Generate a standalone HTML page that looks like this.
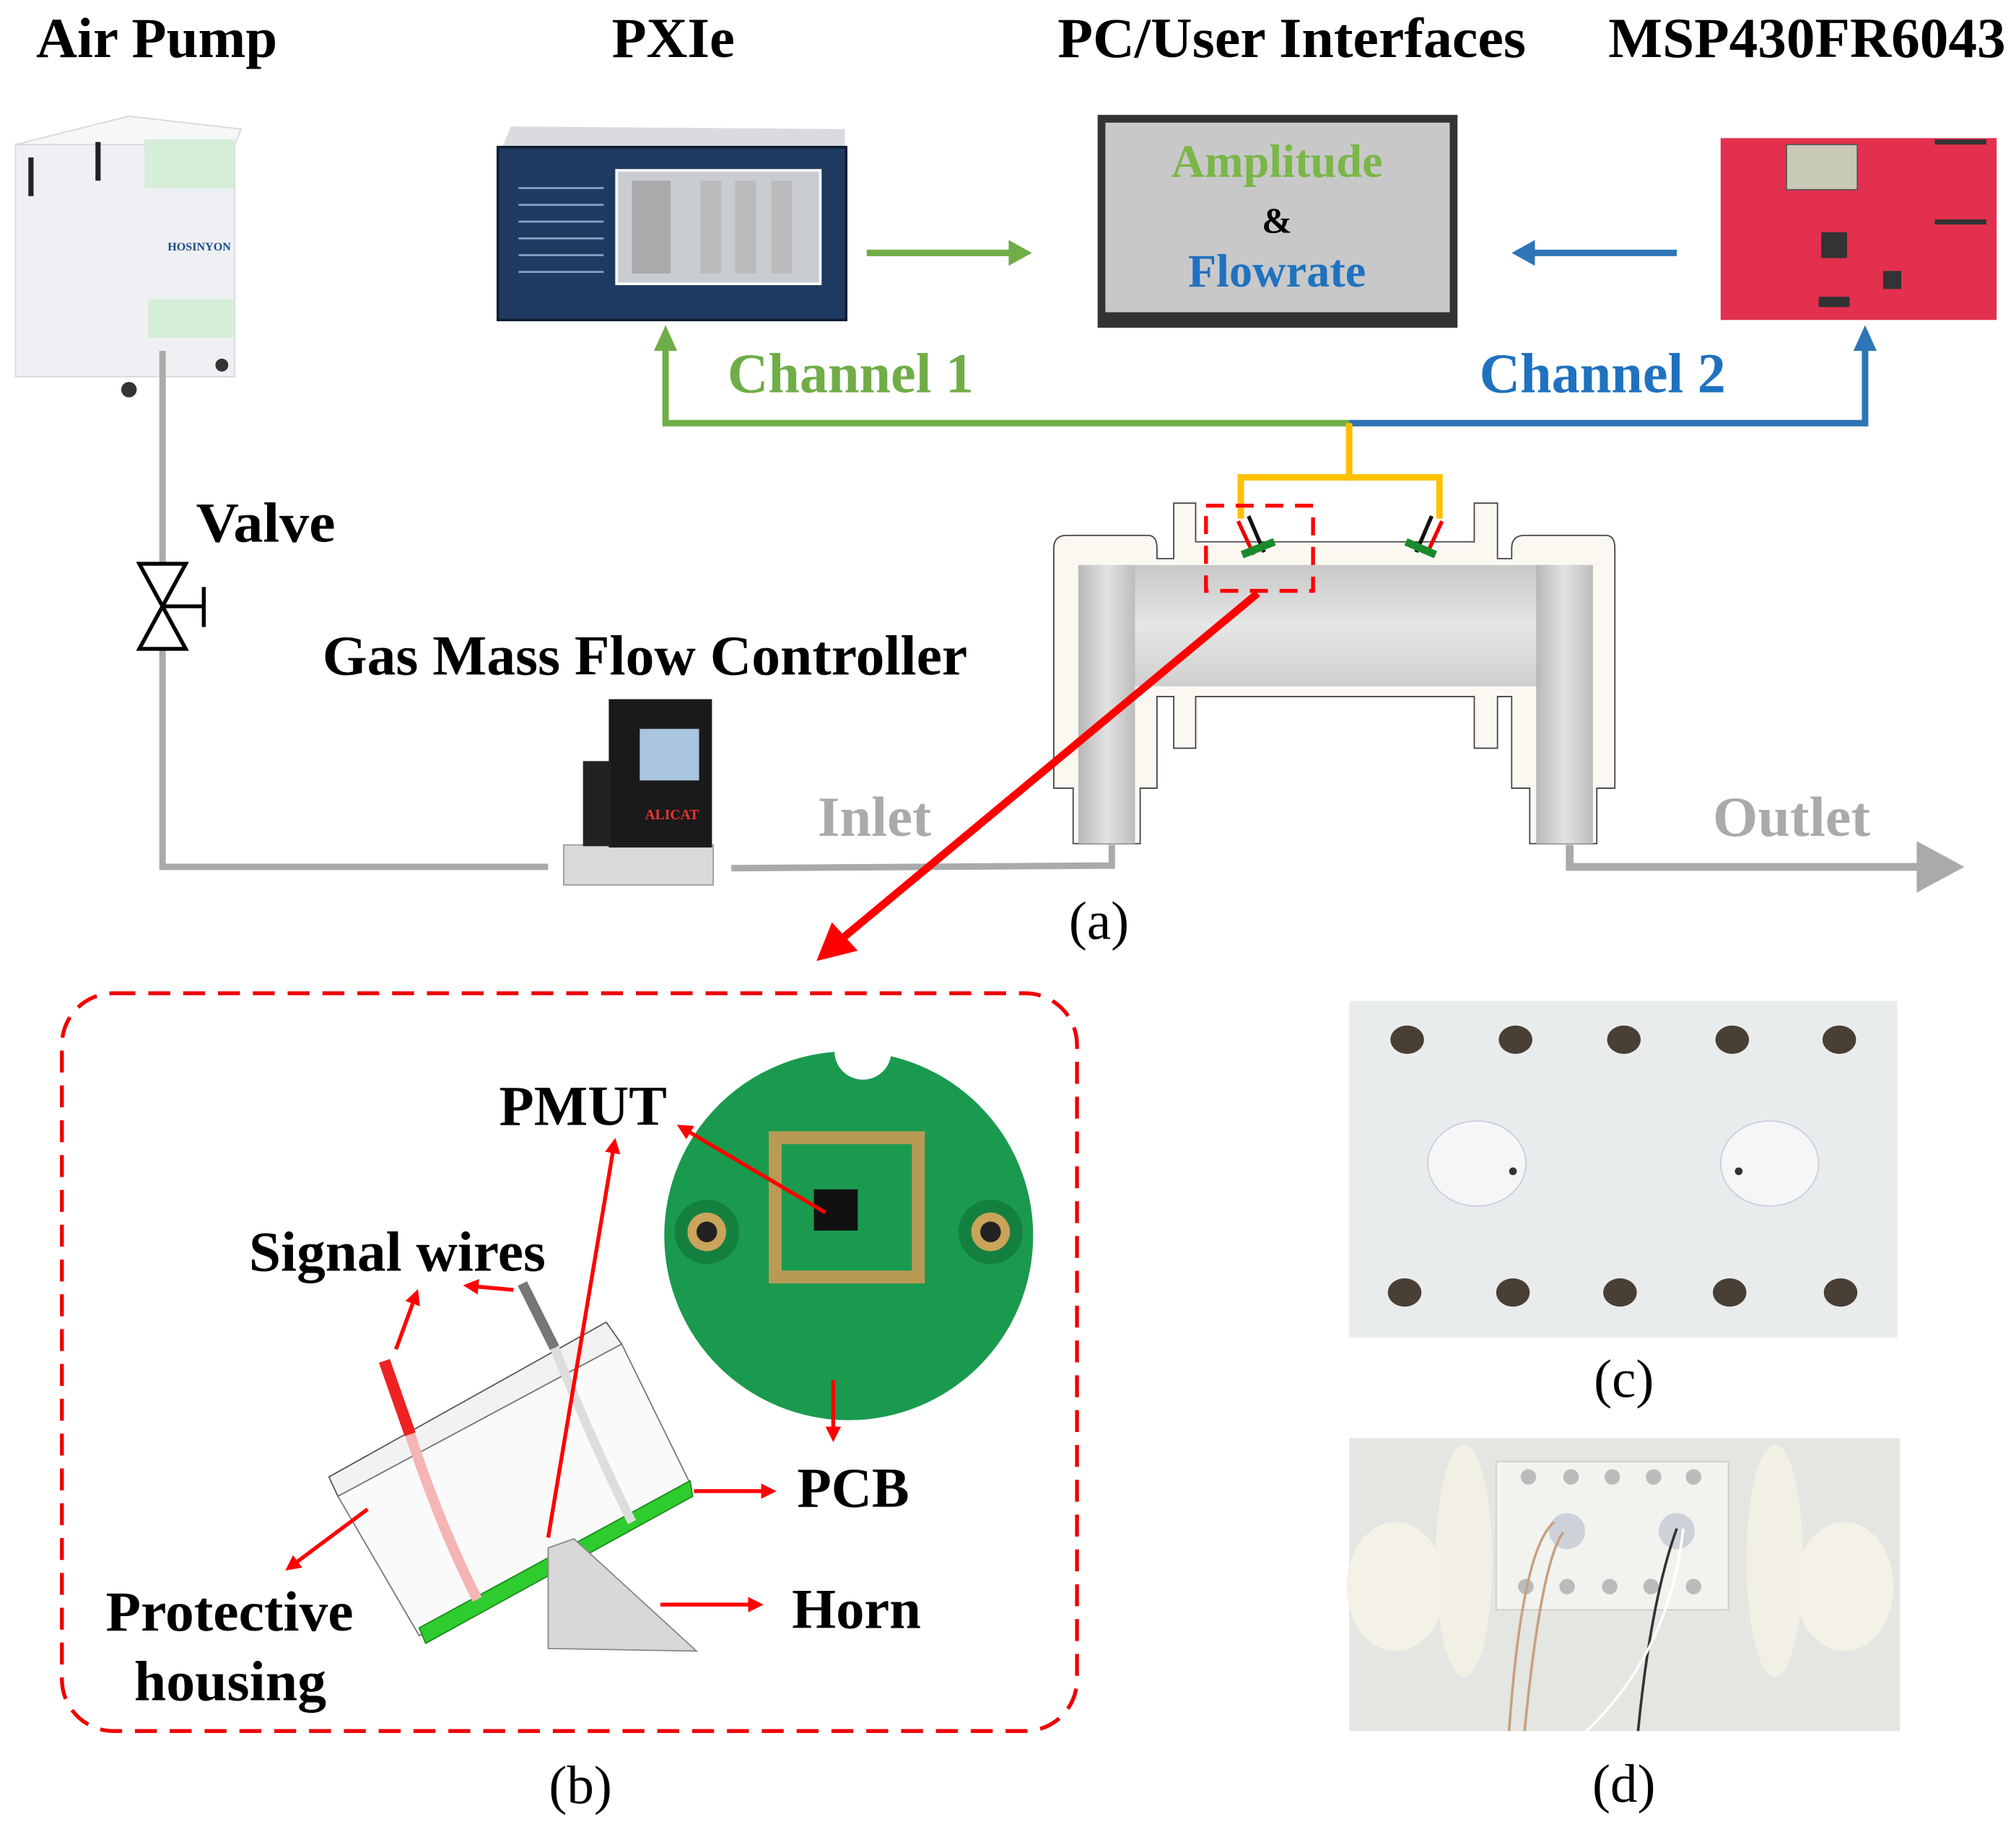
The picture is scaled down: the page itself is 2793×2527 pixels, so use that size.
<!DOCTYPE html>
<html><head><meta charset="utf-8"><style>
html,body{margin:0;padding:0;background:#fff;}
svg{display:block;}
text{font-family:"Liberation Serif",serif;}
</style></head><body>
<svg width="2793" height="2527" viewBox="0 0 1563 1414" xmlns="http://www.w3.org/2000/svg">
<defs>
<marker id="ra" markerWidth="4" markerHeight="4" refX="2" refY="2" orient="auto" markerUnits="strokeWidth"><path d="M0,0 L4,2 L0,4 z" fill="#f00"/></marker>
<linearGradient id="gch" x1="0" y1="0" x2="0" y2="1"><stop offset="0" stop-color="#c8c8c8"/><stop offset="0.5" stop-color="#e6e6e6"/><stop offset="1" stop-color="#cfcfcf"/></linearGradient>
<linearGradient id="gcv" x1="0" y1="0" x2="1" y2="0"><stop offset="0" stop-color="#b8b8b8"/><stop offset="0.5" stop-color="#e2e2e2"/><stop offset="1" stop-color="#bdbdbd"/></linearGradient>
</defs>
<g font-weight="bold" font-size="44" fill="#000">
<text x="28" y="44" textLength="187" lengthAdjust="spacingAndGlyphs">Air Pump</text>
<text x="522" y="44" text-anchor="middle">PXIe</text>
<text x="820" y="44" textLength="363" lengthAdjust="spacingAndGlyphs">PC/User Interfaces</text>
<text x="1247" y="44" textLength="308" lengthAdjust="spacingAndGlyphs">MSP430FR6043</text>
</g>
<!-- air pump -->
<rect x="12" y="112" width="170" height="180" fill="#eef0f3" stroke="#d4d8dc"/>
<polygon points="12,112 100,90 187,100 182,112" fill="#f6f7f8" stroke="#d4d8dc"/>
<rect x="112" y="108" width="70" height="38" fill="#d5eed8"/>
<rect x="115" y="232" width="66" height="30" fill="#d5eed8"/>
<rect x="22" y="122" width="4" height="30" fill="#222"/><rect x="74" y="110" width="4" height="30" fill="#222"/>
<text x="130" y="194" font-size="9" font-weight="bold" fill="#1a4a8a" font-family="Liberation Sans,sans-serif">HOSINYON</text>
<circle cx="100" cy="302" r="6" fill="#333"/><circle cx="172" cy="283" r="5" fill="#333"/>
<!-- PXIe -->
<polygon points="388,118 396,98 655,100 655,118" fill="#d9dbe0"/>
<rect x="386" y="114" width="270" height="134" fill="#1f3a60" stroke="#0e1d33" stroke-width="2"/>
<rect x="478" y="132" width="158" height="88" fill="#c9ccd0" stroke="#fff" stroke-width="2"/>
<g fill="#8aa4c8"><rect x="402" y="145" width="66" height="1.5"/><rect x="402" y="158" width="66" height="1.5"/><rect x="402" y="171" width="66" height="1.5"/><rect x="402" y="184" width="66" height="1.5"/><rect x="402" y="197" width="66" height="1.5"/><rect x="402" y="210" width="66" height="1.5"/></g>
<g fill="#555"><rect x="490" y="140" width="30" height="72" fill="#aaa"/><rect x="543" y="140" width="16" height="72" fill="#bbb"/><rect x="570" y="140" width="16" height="72" fill="#bbb"/><rect x="598" y="140" width="16" height="72" fill="#bbb"/></g>
<!-- monitor -->
<rect x="851" y="89" width="279" height="165" fill="#333"/>
<rect x="857" y="95" width="267" height="147" fill="#c8c8c8"/>
<g font-weight="bold" font-size="36" text-anchor="middle">
<text x="990" y="137" fill="#7ab648">Amplitude</text>
<text x="990" y="180" fill="#000" font-size="28">&amp;</text>
<text x="990" y="222" fill="#1f72bf">Flowrate</text>
</g>
<!-- MSP board -->
<rect x="1334" y="107" width="214" height="141" fill="#e3304e"/>
<rect x="1385" y="112" width="55" height="35" fill="#c9c9b8" stroke="#555"/>
<rect x="1412" y="180" width="20" height="20" fill="#333"/><rect x="1460" y="210" width="14" height="14" fill="#333"/><rect x="1410" y="230" width="24" height="8" fill="#333"/>
<g fill="#333"><rect x="1500" y="108" width="40" height="4"/><rect x="1500" y="170" width="40" height="4"/></g>
<!-- arrows top -->
<line x1="672" y1="196" x2="785" y2="196" stroke="#70ad47" stroke-width="5"/>
<polygon points="800,196 782,186 782,206" fill="#70ad47"/>
<line x1="1300" y1="196" x2="1188" y2="196" stroke="#2e75b6" stroke-width="5"/>
<polygon points="1172,196 1190,186 1190,206" fill="#2e75b6"/>
<!-- channels -->
<polyline points="516,270 516,328 1046,328" fill="none" stroke="#70ad47" stroke-width="5"/>
<polygon points="516,252 507,272 525,272" fill="#70ad47"/>
<polyline points="1046,328 1446,328 1446,270" fill="none" stroke="#2e75b6" stroke-width="5"/>
<polygon points="1446,252 1437,272 1455,272" fill="#2e75b6"/>
<g font-weight="bold" font-size="44"><text x="564" y="304" textLength="191" lengthAdjust="spacingAndGlyphs" fill="#70ad47">Channel 1</text><text x="1147" y="304" textLength="191" lengthAdjust="spacingAndGlyphs" fill="#1f72bf">Channel 2</text></g>
<polyline points="1046,328 1046,370 962,370 962,402" fill="none" stroke="#ffc000" stroke-width="5"/>
<polyline points="1046,370 1116,370 1116,402" fill="none" stroke="#ffc000" stroke-width="5"/>
<!-- chamber -->
<g stroke="#444" stroke-width="1" fill="#fbf8f2">
<path d="M817,425 Q817,415 827,415 L890,415 Q897,415 897,425 L897,433 L910,433 L910,390 L927,390 L927,420 L1143,420 L1143,390 L1161,390 L1161,433 L1172,433 L1172,425 Q1172,415 1182,415 L1245,415 Q1252,415 1252,425 L1252,611 L1238,611 L1238,654 L1186,654 L1186,611 L1172,611 L1172,540 L1161,540 L1161,580 L1143,580 L1143,540 L927,540 L927,580 L910,580 L910,540 L897,540 L897,611 L884,611 L884,654 L832,654 L832,611 L817,611 Z"/>
</g>
<rect x="836" y="438" width="399" height="94" fill="url(#gch)"/>
<rect x="836" y="438" width="44" height="216" fill="url(#gcv)"/>
<rect x="1191" y="438" width="44" height="216" fill="url(#gcv)"/>
<!-- transducers -->
<g>
<line x1="960" y1="404" x2="972" y2="430" stroke="#e00" stroke-width="3"/><line x1="968" y1="400" x2="980" y2="428" stroke="#111" stroke-width="3"/>
<line x1="963" y1="430" x2="988" y2="420" stroke="#1a8a2a" stroke-width="6"/>
<line x1="1118" y1="404" x2="1106" y2="430" stroke="#e00" stroke-width="3"/><line x1="1110" y1="400" x2="1098" y2="428" stroke="#111" stroke-width="3"/>
<line x1="1090" y1="420" x2="1113" y2="430" stroke="#1a8a2a" stroke-width="6"/>
</g>
<rect x="935" y="392" width="83" height="66" fill="none" stroke="#f00" stroke-width="3" stroke-dasharray="14,9"/>
<!-- pipes -->
<polyline points="126,272 126,437" fill="none" stroke="#aaa" stroke-width="5"/>
<polyline points="126,503 126,672 425,672" fill="none" stroke="#aaa" stroke-width="5"/>
<polyline points="567,673 862,671 862,655" fill="none" stroke="#aaa" stroke-width="5"/>
<polyline points="1217,655 1217,672 1490,672" fill="none" stroke="#aaa" stroke-width="6"/>
<polygon points="1523,672 1486,652 1486,692" fill="#aaa"/>
<!-- valve -->
<polygon points="108,437 144,437 108,503 144,503" fill="#fff" stroke="#000" stroke-width="3"/>
<line x1="126" y1="470" x2="158" y2="470" stroke="#000" stroke-width="3"/><line x1="158" y1="455" x2="158" y2="486" stroke="#000" stroke-width="3"/>
<g font-weight="bold" font-size="44"><text x="152" y="420" textLength="108" lengthAdjust="spacingAndGlyphs">Valve</text><text x="250" y="523" textLength="500" lengthAdjust="spacingAndGlyphs">Gas Mass Flow Controller</text></g>
<g font-weight="bold" font-size="44" fill="#aaa"><text x="634" y="648" textLength="88" lengthAdjust="spacingAndGlyphs">Inlet</text><text x="1328" y="648" textLength="122" lengthAdjust="spacingAndGlyphs">Outlet</text></g>
<!-- MFC -->
<rect x="437" y="655" width="116" height="31" fill="#d9d9d9" stroke="#999"/>
<rect x="472" y="542" width="80" height="115" fill="#1a1a1a"/>
<rect x="496" y="565" width="46" height="40" fill="#a9c4de"/>
<rect x="452" y="590" width="22" height="66" fill="#222"/>
<text x="500" y="635" font-size="11" font-weight="bold" fill="#e33" font-family="Liberation Sans,sans-serif">ALICAT</text>
<!-- red arrow -->
<line x1="975" y1="460" x2="650" y2="730" stroke="#f00" stroke-width="6"/>
<polygon points="633,745 645,715 665,737" fill="#f00"/>
<text x="852" y="728" font-size="42" text-anchor="middle">(a)</text>
<!-- panel b -->
<rect x="48" y="770" width="787" height="572" rx="40" fill="none" stroke="#e00" stroke-width="3" stroke-dasharray="17,10"/>
<circle cx="658" cy="958" r="143" fill="#1a9a4e"/>
<circle cx="669" cy="815" r="22" fill="#fff"/>
<circle cx="548" cy="955" r="25" fill="#148040"/><circle cx="548" cy="955" r="15" fill="#c9a45a"/><circle cx="548" cy="955" r="8" fill="#222"/>
<circle cx="768" cy="955" r="25" fill="#148040"/><circle cx="768" cy="955" r="15" fill="#c9a45a"/><circle cx="768" cy="955" r="8" fill="#222"/>
<rect x="596" y="877" width="121" height="118" fill="#b99a55"/>
<rect x="606" y="887" width="101" height="98" fill="#1a9a4e"/>
<rect x="631" y="922" width="34" height="32" fill="#111"/>
<!-- sensor drawing -->
<polygon points="255,1145 470,1025 482,1042 262,1160" fill="#f2f2f2" stroke="#555"/>
<polygon points="262,1160 482,1042 535,1150 325,1268" fill="#fafafa" stroke="#777"/>
<polygon points="325,1262 535,1148 537,1160 330,1274" fill="#2ecc2e" stroke="#1a8a1a"/>
<polygon points="425,1200 445,1193 540,1280 425,1278" fill="#d8d8d8" stroke="#888"/>
<path d="M298,1055 L318,1112" stroke="#e22" stroke-width="9"/>
<path d="M318,1112 Q340,1180 370,1240" stroke="#f5b5b5" stroke-width="8" fill="none"/>
<path d="M405,995 L430,1045" stroke="#777" stroke-width="8"/>
<path d="M430,1045 Q460,1120 490,1180" stroke="#ddd" stroke-width="7" fill="none"/>
<!-- red pointers -->
<g stroke="#f00" stroke-width="3" fill="none">
<line x1="425" y1="1192" x2="476" y2="888" marker-end="url(#ra)"/>
<line x1="640" y1="940" x2="530" y2="875" marker-end="url(#ra)"/>
<line x1="307" y1="1046" x2="322" y2="1005" marker-end="url(#ra)"/>
<line x1="398" y1="1000" x2="365" y2="997" marker-end="url(#ra)"/>
<line x1="646" y1="1070" x2="646" y2="1112" marker-end="url(#ra)"/>
<line x1="538" y1="1156" x2="596" y2="1156" marker-end="url(#ra)"/>
<line x1="512" y1="1244" x2="586" y2="1244" marker-end="url(#ra)"/>
<line x1="285" y1="1170" x2="226" y2="1214" marker-end="url(#ra)"/>
</g>
<g font-weight="bold" font-size="44">
<text x="387" y="872" textLength="130" lengthAdjust="spacingAndGlyphs">PMUT</text><text x="193" y="985" textLength="230" lengthAdjust="spacingAndGlyphs">Signal wires</text>
<text x="618" y="1168" textLength="87" lengthAdjust="spacingAndGlyphs">PCB</text><text x="614" y="1262" textLength="100" lengthAdjust="spacingAndGlyphs">Horn</text>
<text x="82" y="1264" textLength="192" lengthAdjust="spacingAndGlyphs">Protective</text><text x="104" y="1318" textLength="149" lengthAdjust="spacingAndGlyphs">housing</text>
</g>
<text x="450" y="1398" font-size="42" text-anchor="middle">(b)</text>
<!-- panel c -->
<rect x="1046" y="776" width="425" height="261" fill="#e9eced"/>
<g fill="#4a3f35">
<ellipse cx="1091" cy="806" rx="13" ry="11"/><ellipse cx="1175" cy="806" rx="13" ry="11"/><ellipse cx="1259" cy="806" rx="13" ry="11"/><ellipse cx="1343" cy="806" rx="13" ry="11"/><ellipse cx="1426" cy="806" rx="13" ry="11"/>
<ellipse cx="1089" cy="1002" rx="13" ry="11"/><ellipse cx="1173" cy="1002" rx="13" ry="11"/><ellipse cx="1256" cy="1002" rx="13" ry="11"/><ellipse cx="1341" cy="1002" rx="13" ry="11"/><ellipse cx="1427" cy="1002" rx="13" ry="11"/>
</g>
<ellipse cx="1145" cy="902" rx="38" ry="33" fill="#f5f7f7" stroke="#ccd"/><ellipse cx="1372" cy="902" rx="38" ry="33" fill="#f5f7f7" stroke="#ccd"/>
<circle cx="1173" cy="908" r="3" fill="#333"/><circle cx="1348" cy="908" r="3" fill="#333"/>
<text x="1259" y="1083" font-size="42" text-anchor="middle">(c)</text>
<!-- panel d -->
<rect x="1046" y="1115" width="427" height="227" fill="#e4e6e2"/>
<rect x="1160" y="1133" width="180" height="115" fill="#f2f2ef" stroke="#ccc"/>
<ellipse cx="1135" cy="1210" rx="22" ry="90" fill="#f2f0e4"/><ellipse cx="1376" cy="1210" rx="22" ry="90" fill="#f2f0e4"/>
<ellipse cx="1082" cy="1230" rx="38" ry="50" fill="#f4f2e6"/><ellipse cx="1430" cy="1230" rx="38" ry="50" fill="#f4f2e6"/>
<g fill="#bbb"><circle cx="1185" cy="1145" r="6"/><circle cx="1218" cy="1145" r="6"/><circle cx="1250" cy="1145" r="6"/><circle cx="1282" cy="1145" r="6"/><circle cx="1313" cy="1145" r="6"/><circle cx="1183" cy="1230" r="6"/><circle cx="1215" cy="1230" r="6"/><circle cx="1248" cy="1230" r="6"/><circle cx="1280" cy="1230" r="6"/><circle cx="1313" cy="1230" r="6"/></g>
<circle cx="1215" cy="1187" r="14" fill="#cdd2d8"/><circle cx="1300" cy="1187" r="14" fill="#cdd2d8"/>
<path d="M1205,1180 Q1180,1200 1170,1342" stroke="#c8a080" stroke-width="2" fill="none"/>
<path d="M1212,1188 Q1195,1210 1182,1342" stroke="#c8a080" stroke-width="2" fill="none"/>
<path d="M1300,1185 Q1280,1240 1270,1342" stroke="#333" stroke-width="2" fill="none"/>
<path d="M1305,1185 Q1295,1280 1230,1342" stroke="#fff" stroke-width="2" fill="none"/>
<text x="1259" y="1397" font-size="42" text-anchor="middle">(d)</text>
</svg>
</body></html>
